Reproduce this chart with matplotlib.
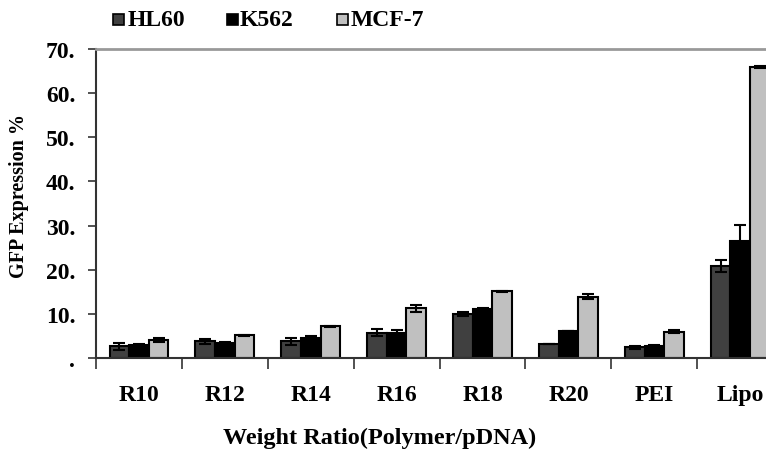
import matplotlib
matplotlib.use("Agg")
import matplotlib.pyplot as plt
import numpy as np
from matplotlib.patches import Rectangle

categories = ["R10", "R12", "R14", "R16", "R18", "R20", "PEI", "Lipo"]
series_names = ["HL60", "K562", "MCF-7"]
hl60 = [2.7, 3.8, 3.8, 5.7, 10.0, 3.1, 2.4, 20.9]
hl60_err = [0.8, 0.6, 0.8, 0.8, 0.4, 0.0, 0.3, 1.4]
k562 = [2.9, 3.3, 4.6, 5.6, 11.0, 6.1, 2.7, 26.4]
k562_err = [0.2, 0.3, 0.3, 0.8, 0.3, 0.0, 0.2, 3.8]
mcf7 = [4.1, 5.1, 7.2, 11.3, 15.1, 13.9, 6.0, 65.9]
mcf7_err = [0.5, 0.1, 0.1, 0.8, 0.1, 0.6, 0.3, 0.3]
yticks = [0, 10, 20, 30, 40, 50, 60, 70]
ytick_labels = [".", "10.", "20.", "30.", "40.", "50.", "60.", "70."]

colors = ["#404040", "#000000", "#c0c0c0"]
serif = ["Liberation Serif", "DejaVu Serif"]
W, H = 766, 452

fig = plt.figure(figsize=(7.66, 4.52), dpi=100)
ax = fig.add_axes([96/W, 93/H, 1 - 96/W, (359-50)/H])

x = np.arange(len(categories))
w = 0.228
data = [(hl60, hl60_err), (k562, k562_err), (mcf7, mcf7_err)]
for i, (vals, errs) in enumerate(data):
    ax.bar(x + (i - 1) * w, vals, w, color=colors[i], edgecolor="black",
           linewidth=1.5, yerr=errs, capsize=4,
           error_kw=dict(ecolor="black", elinewidth=1.5, capthick=1.5),
           zorder=2)

ax.set_xlim(-0.5, 7.3)
ax.set_ylim(0, 70)

ax.set_yticks(yticks)
ax.set_yticklabels(ytick_labels, fontfamily=serif, fontweight="bold", fontsize=17)
ax.tick_params(axis="y", direction="out", length=6, width=1.2, color="#333333", pad=9)

ax.set_xticks(np.arange(-0.5, 7.5, 1.0))
ax.set_xticklabels([])
ax.tick_params(axis="x", which="major", direction="out", length=8, width=1.2, color="#333333")
ax.set_xticks(x, minor=True)
ax.set_xticklabels(categories, minor=True, fontfamily=serif, fontweight="bold", fontsize=17)
ax.tick_params(axis="x", which="minor", length=0, pad=19)

for s in ["left", "bottom"]:
    ax.spines[s].set_color("#333333")
    ax.spines[s].set_linewidth(1.5)
ax.spines["right"].set_visible(False)
ax.spines["top"].set_color("#999999")
ax.spines["top"].set_linewidth(2)

ax.set_xlabel("Weight Ratio(Polymer/pDNA)", fontfamily=serif, fontweight="bold", fontsize=17.5)
ax.xaxis.set_label_coords((380 - 96) / (W - 96), -(428 - 359) / (359 - 50))
ax.set_ylabel("GFP Expression %", fontfamily=serif, fontweight="bold", fontsize=14.5)
ax.yaxis.set_label_coords(-(96 - 29) / (W - 96), (359 - 196) / (359 - 50))

# legend drawn manually
marker_x = [113, 227, 337]
text_x = [128, 240, 351]
for mx, tx, c, name in zip(marker_x, text_x, colors, series_names):
    fig.patches.append(Rectangle((mx / W, 1 - 26 / H), 11 / W, 11 / H, transform=fig.transFigure,
                                 facecolor=c, edgecolor="black", linewidth=1.2))
    fig.text(tx / W, 1 - 26 / H, name, fontfamily=serif, fontweight="bold", fontsize=17,
             va="baseline", ha="left")

fig.savefig("out.png", dpi=100)
